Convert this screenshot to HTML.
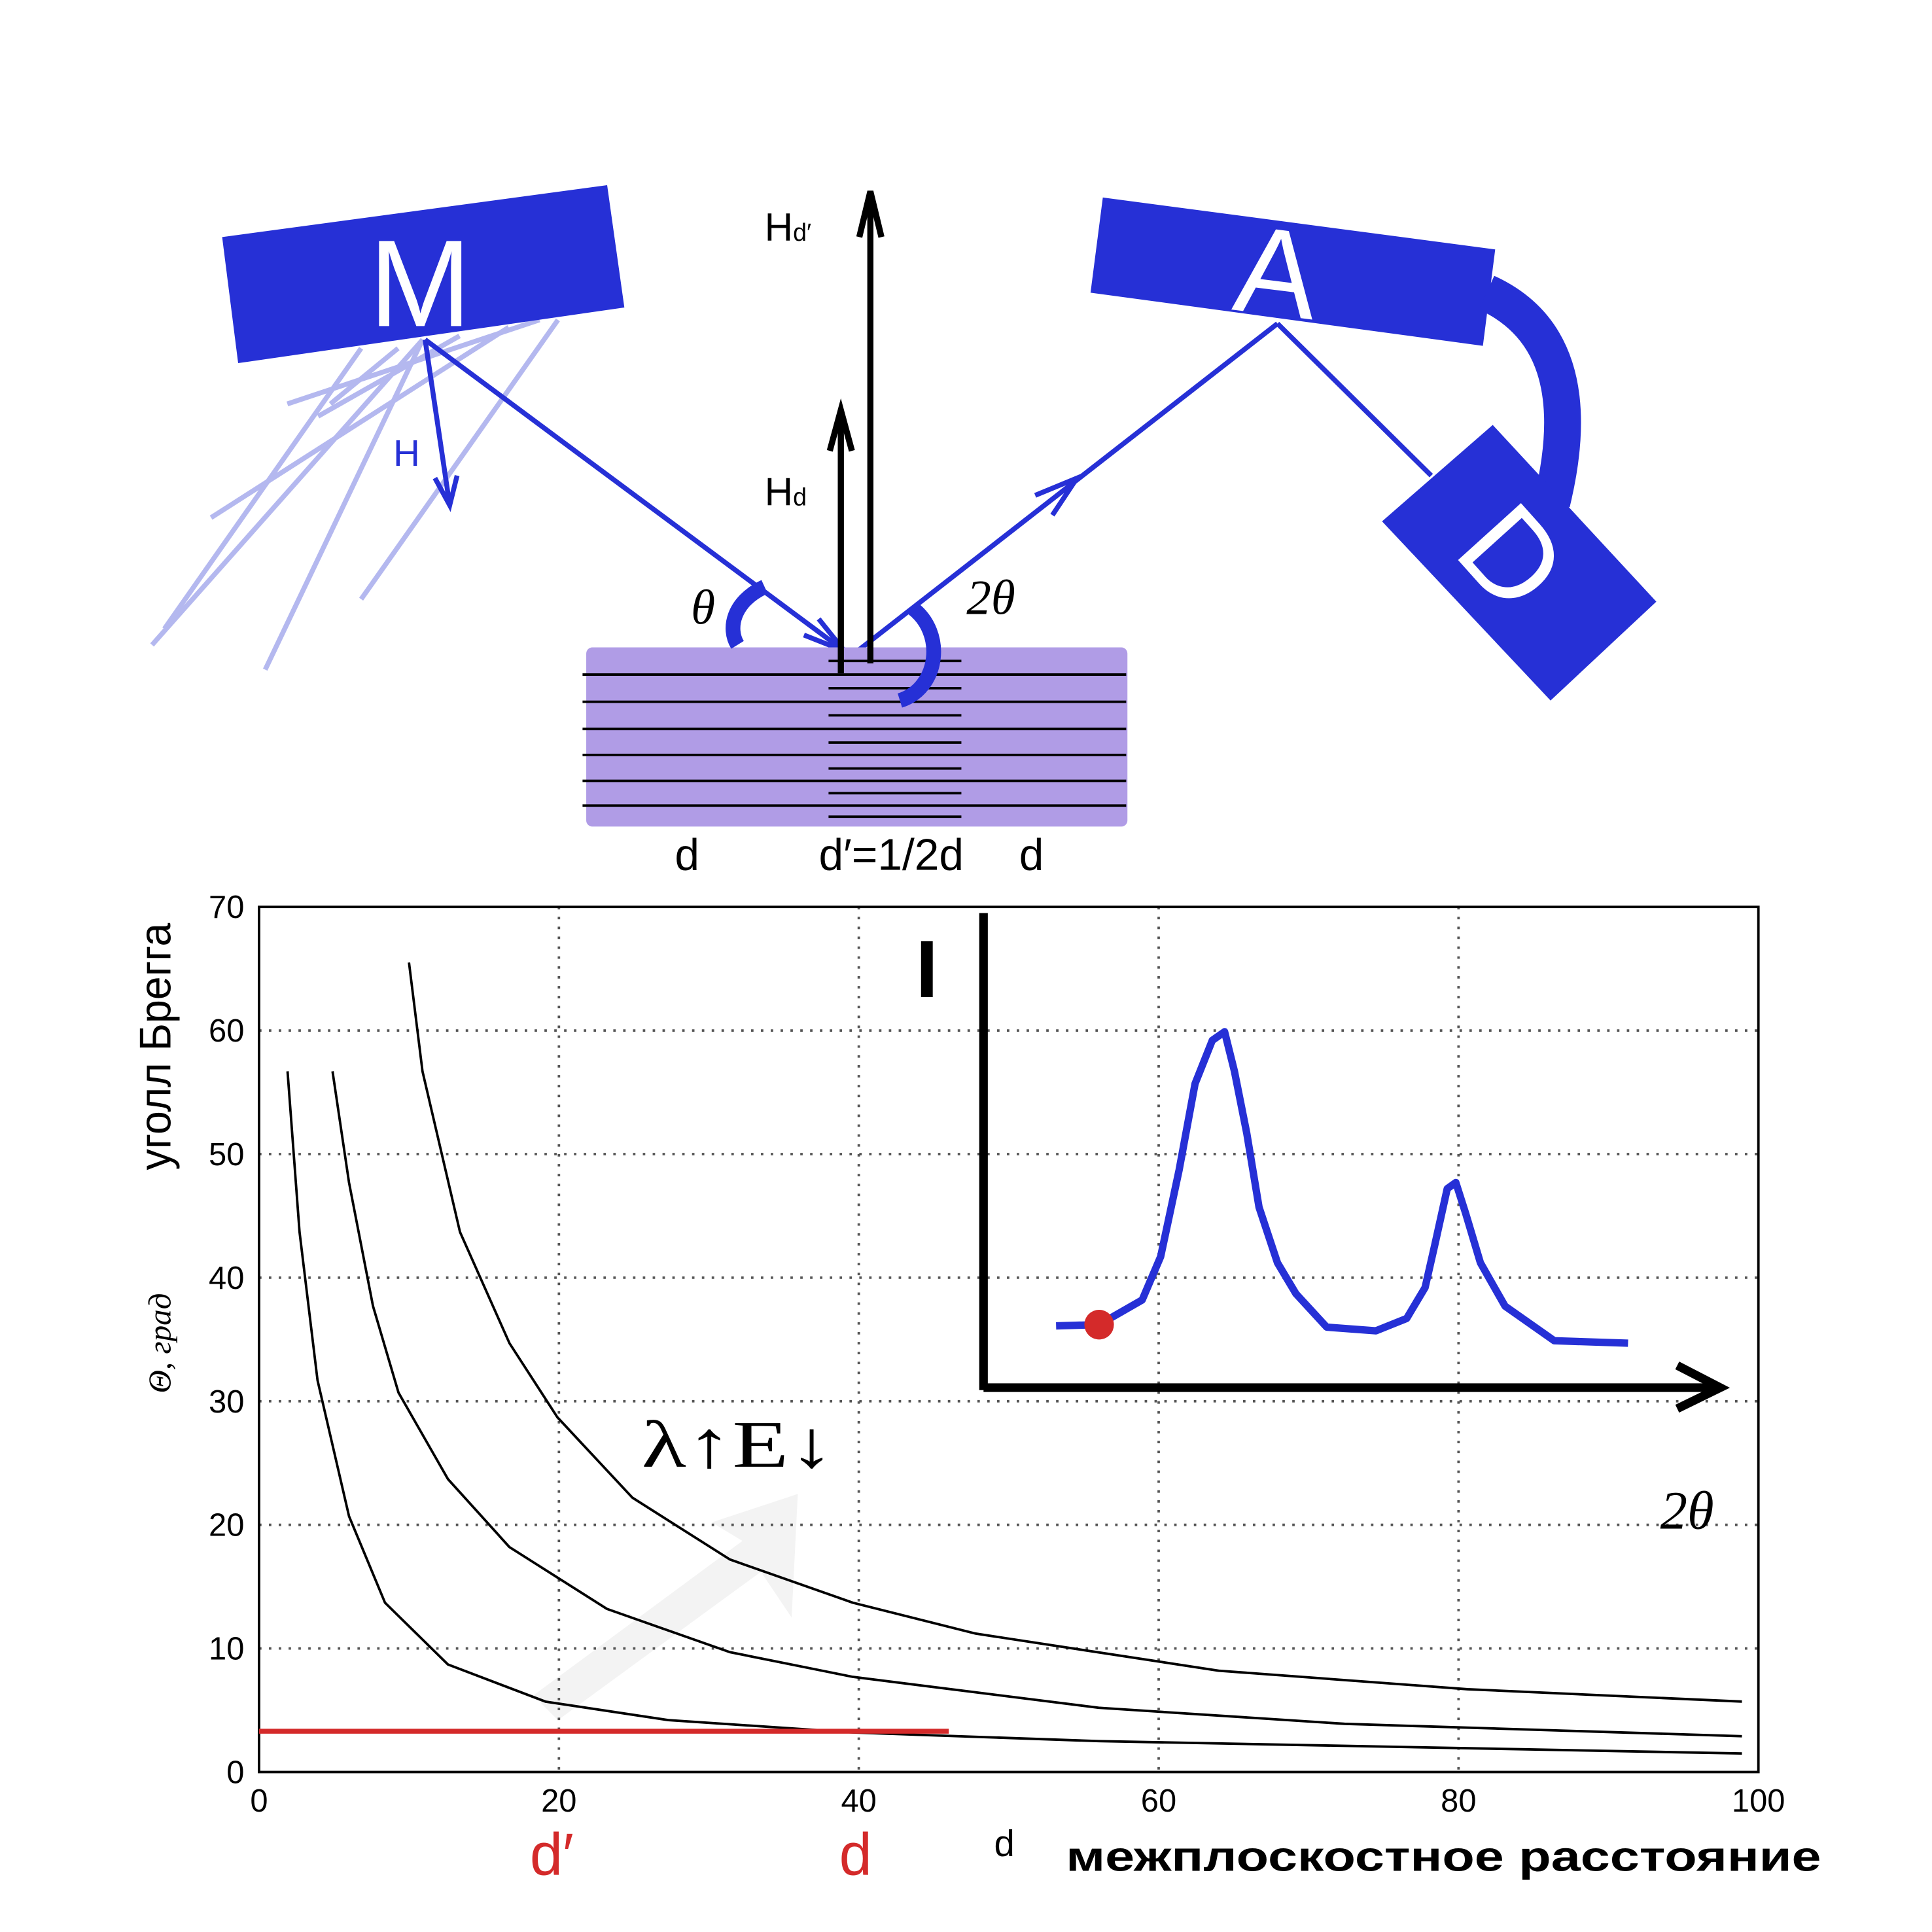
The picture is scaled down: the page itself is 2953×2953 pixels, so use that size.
<!DOCTYPE html>
<html><head><meta charset="utf-8"><style>
html,body{margin:0;padding:0;background:#fff;}
svg{display:block;}
</style></head><body>
<svg id="fig" width="2953" height="2953" viewBox="0 0 2953 2953" xmlns="http://www.w3.org/2000/svg">
<g transform="translate(-12,-6) scale(1.88,1.889)">
<!-- Diagram -->
<g stroke="#b4b8ef" stroke-width="4">
<line x1="350" y1="278" x2="130" y2="525"/>
<line x1="350" y1="278" x2="222" y2="545"/>
<line x1="460" y1="262" x2="300" y2="488"/>
<line x1="420" y1="268" x2="178" y2="422"/>
<line x1="300" y1="285" x2="140" y2="512"/>
<line x1="445" y1="262" x2="240" y2="330"/>
<line x1="380" y1="275" x2="265" y2="340"/>
<line x1="330" y1="285" x2="275" y2="330"/>
</g>
<polygon points="187,195 500,153 514,252 200,297" fill="#2630d6"/>
<text x="348" y="267" font-family="Liberation Sans, sans-serif" font-size="100" fill="#fff" text-anchor="middle">M</text>
<g stroke="#2630d6" stroke-width="4" fill="none">
<line x1="352" y1="278" x2="372" y2="412"/>
<polyline points="360,390 372,412 378,388"/>
<line x1="352" y1="278" x2="693" y2="530"/>
<polyline points="660,517 693,530 672,504"/>
<line x1="697" y1="535" x2="1045" y2="265"/>
<polyline points="848,404 882,390 862,420"/>
<line x1="1045" y1="265" x2="1170" y2="388"/>
<line x1="697" y1="535" x2="722" y2="550" stroke-dasharray="8,8"/>
</g>
<text x="337" y="380" font-family="Liberation Sans, sans-serif" font-size="30" fill="#2630d6" text-anchor="middle">H</text>
<polygon points="903,163 1222,205 1212,283 893,240" fill="#2630d6"/>
<text x="1045" y="258" font-family="Liberation Sans, sans-serif" font-size="100" fill="#fff" text-anchor="middle" transform="rotate(7 1045 220)">A</text>
<path d="M1215,240 C1270,265 1290,320 1268,410" stroke="#2630d6" stroke-width="30" fill="none"/>
<polygon points="1130,425 1220,347 1353,490 1267,570" fill="#2630d6"/>
<text x="1235" y="488" font-family="Liberation Sans, sans-serif" font-size="100" fill="#fff" text-anchor="middle" transform="rotate(48 1235 455)">D</text>
<rect x="483" y="527" width="440" height="145" rx="5" fill="#b09ce6"/>
<g stroke="#000" stroke-width="2">
<line x1="480" y1="549" x2="922" y2="549"/><line x1="480" y1="571" x2="922" y2="571"/>
<line x1="480" y1="593" x2="922" y2="593"/><line x1="480" y1="614" x2="922" y2="614"/>
<line x1="480" y1="635" x2="922" y2="635"/><line x1="480" y1="655" x2="922" y2="655"/>
<line x1="680" y1="538" x2="788" y2="538"/><line x1="680" y1="560" x2="788" y2="560"/>
<line x1="680" y1="582" x2="788" y2="582"/><line x1="680" y1="604" x2="788" y2="604"/>
<line x1="680" y1="625" x2="788" y2="625"/><line x1="680" y1="645" x2="788" y2="645"/>
<line x1="680" y1="664" x2="788" y2="664"/>
</g>
<g stroke="#000" stroke-width="5" fill="none">
<line x1="690" y1="548" x2="690" y2="340"/><polyline points="681,368 690,335 699,368"/>
<line x1="714" y1="540" x2="714" y2="163"/><polyline points="705,195 714,158 723,195"/>
</g>
<text x="628" y="198" font-family="Liberation Sans, sans-serif" font-size="32">H<tspan font-size="20">d′</tspan></text>
<text x="628" y="412" font-family="Liberation Sans, sans-serif" font-size="32">H<tspan font-size="20">d</tspan></text>
<g stroke="#2630d6" stroke-width="12" fill="none">
<path d="M628,478 C602,490 598,512 606,525"/>
<path d="M748,495 C775,515 770,560 738,570"/>
</g>
<text x="578" y="508" font-family="Liberation Serif, serif" font-style="italic" font-size="40" text-anchor="middle">θ</text>
<text x="812" y="500" font-family="Liberation Serif, serif" font-style="italic" font-size="40" text-anchor="middle">2θ</text>
<text x="565" y="707" font-family="Liberation Sans, sans-serif" font-size="36" text-anchor="middle">d</text>
<text x="731" y="707" font-family="Liberation Sans, sans-serif" font-size="36" text-anchor="middle">d′=1/2d</text>
<text x="845" y="707" font-family="Liberation Sans, sans-serif" font-size="36" text-anchor="middle">d</text>

<!-- Chart -->
<polygon points="440,1375 610,1250 585,1235 655,1212 650,1312 625,1275 460,1395" fill="#f3f3f3"/>
<g id="chart"></g>
<text transform="translate(145,850) rotate(-90)" font-family="Liberation Sans, sans-serif" font-size="36" text-anchor="middle" textLength="200" lengthAdjust="spacingAndGlyphs">уголл Брегга</text>
<text transform="translate(145,1090) rotate(-90)" font-family="Liberation Serif, serif" font-style="italic" font-size="26" text-anchor="middle">Θ, град</text>
<text x="528" y="1190" font-family="Liberation Serif, serif" font-size="54" textLength="157" lengthAdjust="spacingAndGlyphs">λ↑E↓</text>
<g>
<line x1="806" y1="742" x2="806" y2="1128" stroke="#000" stroke-width="7"/>
<line x1="806" y1="1126" x2="1405" y2="1126" stroke="#000" stroke-width="7"/>
<polyline points="1370,1108 1405,1126 1370,1143" stroke="#000" stroke-width="7" fill="none"/>
<text x="760" y="810" font-family="Liberation Sans, sans-serif" font-weight="bold" font-size="66" text-anchor="middle">I</text>
<text x="1378" y="1240" font-family="Liberation Serif, serif" font-style="italic" font-size="44" text-anchor="middle">2θ</text>
<polyline points="865,1076 900,1075 935,1055 950,1020 965,950 978,880 992,845 1002,838 1010,870 1020,920 1030,980 1045,1025 1060,1050 1085,1077 1125,1080 1150,1070 1165,1045 1173,1010 1183,965 1190,960 1198,985 1210,1025 1230,1060 1270,1088 1330,1090" stroke="#2630d6" stroke-width="6" fill="none" stroke-linejoin="round"/>
<circle cx="900" cy="1075" r="12" fill="#d42a2a"/>
</g>
<text x="455" y="1520" font-family="Liberation Sans, sans-serif" font-size="48" fill="#d42a2a" text-anchor="middle">d′</text>
<text x="702" y="1520" font-family="Liberation Sans, sans-serif" font-size="48" fill="#d42a2a" text-anchor="middle">d</text>
<text x="823" y="1505" font-family="Liberation Sans, sans-serif" font-size="30" text-anchor="middle">d</text>
<text x="873" y="1517" font-family="Liberation Sans, sans-serif" font-size="34" font-weight="bold" textLength="614" lengthAdjust="spacingAndGlyphs">межплоскостное расстояние</text>
</g>
</svg>
<script>
const xTicks = [0, 20, 40, 60, 80, 100];
const yTicks = [0, 10, 20, 30, 40, 50, 60, 70];
const curve1D = [1.9, 2.7, 3.9, 6, 8.4, 12.6, 19.1, 27.3, 39.6, 56, 98.9];
const curve1Theta = [56.7, 43.7, 31.7, 20.7, 13.7, 8.7, 5.7, 4.2, 3.2, 2.5, 1.5];
const curve2D = [4.9, 6, 7.6, 9.3, 12.6, 16.7, 23.2, 31.4, 39.6, 56, 72.4, 98.9];
const curve2Theta = [56.7, 47.7, 37.7, 30.7, 23.7, 18.2, 13.2, 9.7, 7.7, 5.2, 3.9, 2.9];
const curve3D = [10, 10.9, 13.4, 16.7, 19.9, 24.9, 31.4, 39.6, 47.8, 64, 80.6, 98.9];
const curve3Theta = [65.5, 56.7, 43.7, 34.7, 28.7, 22.2, 17.2, 13.7, 11.2, 8.2, 6.7, 5.7];
const redLineD = [0, 46];
const redLineTheta = [3.3, 3.3];

const L = 217, R = 1436, T = 737, B = 1437;
const xS = d => L + d / 100 * (R - L);
const yS = t => B - t / 70 * (B - T);
const NS = 'http://www.w3.org/2000/svg';
const g = document.getElementById('chart');
function mk(tag, attrs) { const e = document.createElementNS(NS, tag); for (const k in attrs) e.setAttribute(k, attrs[k]); g.appendChild(e); return e; }

xTicks.forEach(v => {
  if (v > 0 && v < 100) {
    const l = mk('line', {x1: xS(v), x2: xS(v), y1: T, y2: B, stroke: '#555', 'stroke-width': 2, 'stroke-dasharray': '2,6'});
    
    
  }
  const t = mk('text', {x: xS(v), y: B + 32, 'font-family': 'Liberation Sans, sans-serif', 'font-size': 26, 'text-anchor': 'middle'});
  t.textContent = v;
  
  
});
yTicks.forEach(v => {
  if (v > 0 && v < 70) {
    const l = mk('line', {x1: L, x2: R, y1: yS(v), y2: yS(v), stroke: '#555', 'stroke-width': 2, 'stroke-dasharray': '2,6'});
    
    
  }
  const t = mk('text', {x: L - 12, y: yS(v) + 9, 'font-family': 'Liberation Sans, sans-serif', 'font-size': 26, 'text-anchor': 'end'});
  t.textContent = v;
  
  
});
const frame = mk('rect', {x: L, y: T, width: R - L, height: B - T, fill: 'none', stroke: '#000', 'stroke-width': 2});



function drawLine(ds, ts, name, color, w) {
  const pts = ds.map((d, i) => xS(d) + ',' + yS(ts[i])).join(' ');
  const p = mk('polyline', {points: pts, fill: 'none', stroke: color, 'stroke-width': w, 'stroke-linejoin': 'round'});
  
  
}
drawLine(curve1D, curve1Theta, 'bragg-curve-1', '#000', 2);
drawLine(curve2D, curve2Theta, 'bragg-curve-2', '#000', 2);
drawLine(curve3D, curve3Theta, 'bragg-curve-3', '#000', 2);
drawLine(redLineD, redLineTheta, 'fixed-angle-line', '#d42a2a', 4);
</script>
</body></html>
